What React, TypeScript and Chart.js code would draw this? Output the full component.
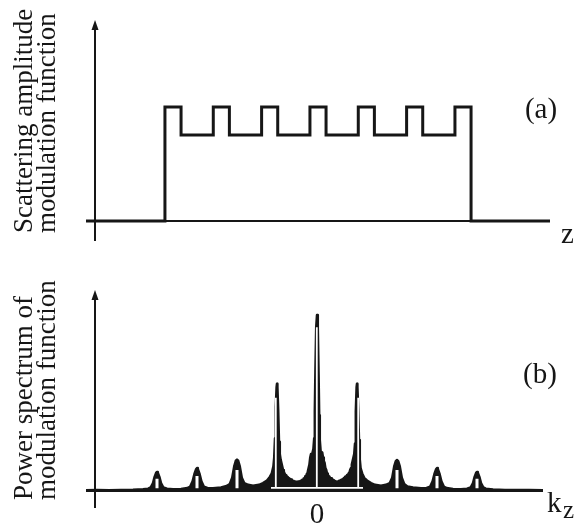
import React, { useEffect, useRef } from "react";
import { Chart, registerables } from "chart.js";

Chart.register(...registerables);

// ---------- Panel (a): scattering amplitude modulation function ----------
const zEdges = [-14.4, -9.5, -8.5, -6.5, -5.5, -3.5, -2.5, -0.5, 0.5, 2.5, 3.5, 5.5, 6.5, 8.5, 9.5, 14.4];
const amplitude = [0, 1, 0.754, 1, 0.754, 1, 0.754, 1, 0.754, 1, 0.754, 1, 0.754, 1, 0, 0];

// ---------- Panel (b): power spectrum of modulation function ----------
const kzMeasured = [
  -5.78, -5.5, -5.2, -4.9, -4.6, -4.35, -4.22, -4.16, -4.1, -4.06, -4.02, -4.0, -3.98, -3.94, -3.9, -3.84, -3.75,
  -3.6, -3.4, -3.24, -3.17, -3.11, -3.06, -3.02, -3.0, -2.98, -2.94, -2.89, -2.83, -2.74, -2.6, -2.4, -2.26,
  -2.18, -2.12, -2.07, -2.03, -2.0, -1.97, -1.93, -1.88, -1.82, -1.72, -1.6, -1.45, -1.35, -1.25, -1.18, -1.13,
  -1.09, -1.07, -1.05, -1.03, -1.01, -1.0, -0.99, -0.97, -0.95, -0.93,
  -0.91, -0.89, -0.87, -0.85, -0.83, -0.81, -0.79, -0.77, -0.75, -0.73, -0.71, -0.69, -0.67,
  -0.65, -0.63, -0.61, -0.59, -0.57, -0.55, -0.53, -0.51, -0.49, -0.47, -0.45, -0.43, -0.41, -0.39, -0.37,
  -0.35, -0.33, -0.31, -0.29, -0.27, -0.25, -0.23, -0.21, -0.19, -0.17, -0.15, -0.13, -0.11, -0.09, -0.07,
  -0.055, -0.04, -0.02, 0, 0.02, 0.04, 0.055, 0.07, 0.09, 0.11, 0.13, 0.15, 0.17, 0.19, 0.21, 0.23, 0.25,
  0.27, 0.29, 0.31, 0.33, 0.35, 0.37, 0.39, 0.41, 0.43, 0.45, 0.47, 0.49, 0.51, 0.53, 0.55, 0.57, 0.59, 0.61,
  0.63, 0.65, 0.67, 0.69, 0.71, 0.73, 0.75, 0.77, 0.79, 0.81, 0.83, 0.85, 0.87, 0.89, 0.91, 0.93, 0.95, 0.97,
  0.99, 1.0, 1.01, 1.03, 1.05, 1.07, 1.09, 1.13, 1.18, 1.25, 1.35, 1.45, 1.6, 1.72, 1.82, 1.88, 1.93, 1.97,
  2.0, 2.03, 2.07, 2.12, 2.18, 2.26, 2.4, 2.6, 2.74, 2.83, 2.89, 2.94, 2.98, 3.0, 3.02, 3.06, 3.11, 3.17, 3.24,
  3.4, 3.6, 3.75, 3.84, 3.9, 3.94, 3.98, 4.0, 4.02, 4.06, 4.1, 4.16, 4.22, 4.4, 4.7, 5.0, 5.3, 5.65,
];
const powerMeasured = [
  0.004, 0.005, 0.004, 0.006, 0.007, 0.01, 0.013, 0.02, 0.045, 0.08, 0.104, 0.108, 0.104, 0.08, 0.045, 0.02, 0.013,
  0.01, 0.012, 0.017, 0.025, 0.055, 0.1, 0.125, 0.13, 0.125, 0.1, 0.055, 0.025, 0.017, 0.015, 0.02, 0.028,
  0.04, 0.075, 0.14, 0.172, 0.178, 0.172, 0.14, 0.075, 0.045, 0.035, 0.03, 0.035, 0.045, 0.06, 0.08, 0.1,
  0.14, 0.19, 0.3, 0.48, 0.59, 0.61, 0.59, 0.46, 0.28, 0.21,
  0.18, 0.16, 0.14, 0.12, 0.11, 0.1, 0.085, 0.09, 0.075, 0.08, 0.068, 0.072, 0.06,
  0.066, 0.055, 0.06, 0.05, 0.056, 0.048, 0.054, 0.047, 0.053, 0.048, 0.055, 0.05, 0.058, 0.055, 0.064,
  0.06, 0.072, 0.07, 0.085, 0.082, 0.1, 0.11, 0.13, 0.15, 0.19, 0.21, 0.2, 0.22, 0.24, 0.3,
  0.45, 0.68, 0.93, 1.0, 0.93, 0.66, 0.43, 0.29, 0.23, 0.21, 0.22, 0.19, 0.17, 0.16, 0.13, 0.12, 0.1,
  0.095, 0.08, 0.082, 0.07, 0.072, 0.062, 0.066, 0.056, 0.06, 0.05, 0.056, 0.048, 0.054, 0.05, 0.058, 0.053, 0.062, 0.058,
  0.066, 0.064, 0.074, 0.07, 0.082, 0.078, 0.09, 0.088, 0.1, 0.105, 0.12, 0.13, 0.15, 0.17, 0.19, 0.21, 0.27, 0.45,
  0.59, 0.61, 0.59, 0.47, 0.29, 0.18, 0.13, 0.1, 0.075, 0.06, 0.045, 0.035, 0.03, 0.035, 0.045, 0.075, 0.14, 0.17,
  0.176, 0.17, 0.14, 0.075, 0.04, 0.026, 0.02, 0.015, 0.017, 0.025, 0.055, 0.1, 0.125, 0.13, 0.125, 0.1, 0.055, 0.025, 0.017,
  0.012, 0.01, 0.013, 0.02, 0.045, 0.08, 0.104, 0.108, 0.104, 0.08, 0.045, 0.02, 0.013, 0.008, 0.006, 0.005, 0.006, 0.004,
];

// Model curve (drawn in white over the measured spectrum); null = break in the line
const kzModelMain = [-1.15, -1.03, -1.03, -1.03, -0.005, -0.005, -0.005, 1.03, 1.03, 1.03, 1.15];
const powerModelMain = [0.018, 0.018, 0.53, 0.018, 0.018, 0.93, 0.018, 0.018, 0.53, 0.018, 0.018];
const kzModelSide = [-4.0, -4.0, -4.0, -3.0, -3.0, -3.0, -2.0, -2.0, -2.0, 2.0, 2.0, 2.0, 3.0, 3.0, 3.0, 4.0, 4.0];
const powerModelSide = [0.016, 0.07, null, 0.016, 0.085, null, 0.016, 0.12, null, 0.016, 0.12, null, 0.016, 0.085, null, 0.016, 0.07];

// Axis labels and ticks
const titleA = ["Scattering amplitude", "modulation function"];
const titleB = ["Power spectrum of", "modulation function"];
const tickValuesB = [0];
const tickLabelsB = ["0"];

const INK = "#161616";
const SERIF = "'Liberation Serif', 'Times New Roman', Times, serif";

const figurePlugin = {
  id: "figure",
  beforeDatasetsDraw(chart: any, _args: any, opts: any) {
    const { ctx } = chart;
    const xs = chart.scales.x;
    const ys = chart.scales.y;
    const ax = xs.getPixelForValue(opts.yAxisAt);
    const y0 = ys.getPixelForValue(0);
    ctx.save();
    ctx.strokeStyle = INK;
    ctx.fillStyle = INK;
    ctx.lineWidth = 2;
    ctx.beginPath();
    ctx.moveTo(xs.left, y0);
    ctx.lineTo(xs.right, y0);
    ctx.stroke();
    ctx.beginPath();
    ctx.moveTo(ax, ys.bottom);
    ctx.lineTo(ax, ys.top + 8);
    ctx.stroke();
    ctx.beginPath();
    ctx.moveTo(ax, ys.top);
    ctx.lineTo(ax - 3.5, ys.top + 10);
    ctx.lineTo(ax + 3.5, ys.top + 10);
    ctx.closePath();
    ctx.fill();
    ctx.restore();
  },
  afterDraw(chart: any, _args: any, opts: any) {
    const { ctx } = chart;
    const xs = chart.scales.x;
    const ys = chart.scales.y;
    ctx.save();
    ctx.fillStyle = INK;
    ctx.font = `27px ${SERIF}`;
    ctx.textAlign = "left";
    ctx.textBaseline = "alphabetic";
    const startY = ys.bottom - 8;
    (opts.title as string[]).forEach((line: string, i: number) => {
      ctx.save();
      ctx.translate(opts.titleBaselines[i], startY);
      ctx.rotate(-Math.PI / 2);
      ctx.fillText(line, 0, 0);
      ctx.restore();
    });
    ctx.font = `29px ${SERIF}`;
    ctx.textAlign = "center";
    ctx.fillText(opts.panel, opts.panelX, opts.panelY);
    ctx.textAlign = "left";
    ctx.fillText(opts.axisLabel, opts.axisLabelX, opts.axisLabelY);
    if (opts.axisSub) {
      ctx.font = `25px ${SERIF}`;
      ctx.fillText(opts.axisSub, opts.axisSubX, opts.axisSubY);
    }
    if (opts.tickValues) {
      ctx.font = `29px ${SERIF}`;
      ctx.textAlign = "center";
      (opts.tickValues as number[]).forEach((v: number, i: number) => {
        ctx.fillText(opts.tickLabels[i], xs.getPixelForValue(v), opts.tickY);
      });
    }
    ctx.restore();
  },
};

export default function App() {
  const topRef = useRef<HTMLCanvasElement>(null);
  const botRef = useRef<HTMLCanvasElement>(null);

  useEffect(() => {
    const common = {
      responsive: false,
      animation: false as const,
      devicePixelRatio: 1,
      events: [] as any[],
    };

    const top = new Chart(topRef.current!, {
      type: "line",
      data: {
        datasets: [
          {
            data: zEdges.map((z, i) => ({ x: z, y: amplitude[i] })),
            borderColor: INK,
            borderWidth: 3,
            stepped: true,
            pointRadius: 0,
            fill: false,
            borderJoinStyle: "miter",
            borderCapStyle: "butt",
          } as any,
        ],
      },
      options: {
        ...common,
        layout: { padding: { left: 86, right: 24, top: 20, bottom: 21 } },
        scales: {
          x: { type: "linear", min: -14.4, max: 14.4, display: false },
          y: { type: "linear", min: -0.175, max: 1.763, display: false },
        },
        plugins: {
          legend: { display: false },
          tooltip: { enabled: false },
          figure: {
            yAxisAt: -13.84,
            title: titleA,
            titleBaselines: [32, 55],
            panel: "(a)",
            panelX: 541,
            panelY: 118,
            axisLabel: "z",
            axisLabelX: 561,
            axisLabelY: 243,
          },
        } as any,
      },
      plugins: [figurePlugin as any],
    });

    const bot = new Chart(botRef.current!, {
      type: "line",
      data: {
        datasets: [
          {
            label: "measured",
            order: 3,
            data: kzMeasured.map((k, i) => ({ x: k, y: powerMeasured[i] })),
            borderColor: INK,
            backgroundColor: INK,
            borderWidth: 2.5,
            pointRadius: 0,
            fill: "origin",
            borderJoinStyle: "round",
          } as any,
          {
            label: "model",
            order: 1,
            data: kzModelMain.map((k, i) => ({ x: k, y: powerModelMain[i] })),
            borderColor: "#ffffff",
            borderWidth: 1.8,
            pointRadius: 0,
            fill: false,
          } as any,
          {
            label: "model side peaks",
            order: 0,
            data: kzModelSide.map((k, i) => ({ x: k, y: powerModelSide[i] })),
            borderColor: "#ffffff",
            borderWidth: 3,
            pointRadius: 0,
            fill: false,
            spanGaps: false,
          } as any,
        ],
      },
      options: {
        ...common,
        layout: { padding: { left: 86, right: 31, top: 28, bottom: 16 } },
        scales: {
          x: { type: "linear", min: -5.775, max: 5.65, display: false },
          y: { type: "linear", min: -0.0966, max: 1.142, display: false },
        },
        plugins: {
          legend: { display: false },
          tooltip: { enabled: false },
          filler: { propagate: false },
          figure: {
            yAxisAt: -5.55,
            title: titleB,
            titleBaselines: [32, 55],
            panel: "(b)",
            panelX: 540,
            panelY: 121,
            axisLabel: "k",
            axisLabelX: 547,
            axisLabelY: 250,
            axisSub: "z",
            axisSubX: 563,
            axisSubY: 256,
            tickValues: tickValuesB,
            tickLabels: tickLabelsB,
            tickY: 261,
          },
        } as any,
      },
      plugins: [figurePlugin as any],
    });

    return () => {
      top.destroy();
      bot.destroy();
    };
  }, []);

  return (
    <div style={{ position: "fixed", left: 0, top: 0, width: 574, height: 524, background: "#ffffff" }}>
      <canvas ref={topRef} width={574} height={262} style={{ position: "absolute", left: 0, top: 0 }} />
      <canvas ref={botRef} width={574} height={262} style={{ position: "absolute", left: 0, top: 262 }} />
    </div>
  );
}
